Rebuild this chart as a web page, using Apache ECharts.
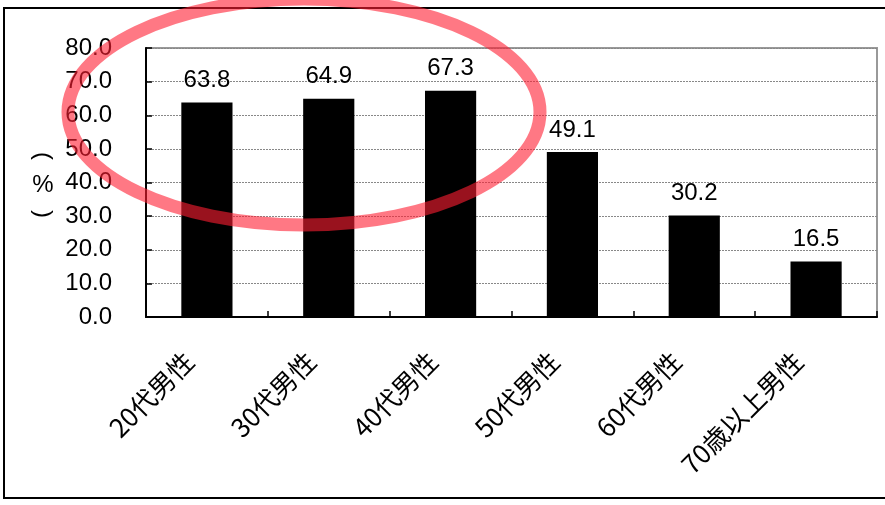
<!DOCTYPE html>
<html>
<head>
<meta charset="utf-8">
<script src="https://cdn.jsdelivr.net/npm/echarts@6/dist/echarts.min.js"></script>
<style>
  html, body { margin: 0; padding: 0; background: #fff; }
  #chart { width: 885px; height: 505px; }
</style>
</head>
<body>
<div id="chart"></div>
<script>
// Age groups (men) and their shares in percent
const categories = ['20代男性', '30代男性', '40代男性', '50代男性', '60代男性', '70歳以上男性'];
const values = [63.8, 64.9, 67.3, 49.1, 30.2, 16.5];
const yTicks = [0, 10, 20, 30, 40, 50, 60, 70, 80];

const FONT = '"Liberation Sans", "Noto Sans CJK JP", sans-serif';
const LABEL_FONT = '"Liberation Sans Narrow", "Noto Sans CJK JP", sans-serif';
const FS = 24;

const chart = echarts.init(document.getElementById('chart'), null, { renderer: 'canvas' });

// vertical unit caption "（%）": parentheses turned on their side, % upright
const unitX = 43;
const unitCaption = [
  { text: '(', y: 156, rotation: -Math.PI / 2 },
  { text: '%', y: 185, rotation: 0 },
  { text: ')', y: 214, rotation: -Math.PI / 2 }
].map(c => ({
  type: 'text', silent: true, z: 50,
  x: unitX, y: c.y, rotation: c.rotation,
  style: {
    text: c.text, fill: '#000', fontSize: FS, fontFamily: FONT,
    align: 'center', verticalAlign: 'middle'
  }
}));

chart.setOption({
  animation: false,
  backgroundColor: '#ffffff',
  grid: {
    left: 146, top: 48, right: 8, bottom: 188,
    show: true, borderColor: '#999999', borderWidth: 2, backgroundColor: 'transparent'
  },
  xAxis: {
    type: 'category',
    data: categories,
    axisLine: { lineStyle: { color: '#000', width: 2 } },
    axisTick: { show: true, inside: true, length: 6, lineStyle: { color: '#000', width: 1.5 } },
    axisLabel: {
      rotate: 45, margin: 22, color: '#000', fontSize: 26, fontFamily: LABEL_FONT, interval: 0,
      padding: [0, 25, 0, 0]
    }
  },
  yAxis: {
    type: 'value',
    min: yTicks[0],
    max: yTicks[yTicks.length - 1],
    interval: yTicks[1] - yTicks[0],
    axisLine: { show: true, lineStyle: { color: '#000', width: 2 } },
    axisTick: { show: true, inside: true, length: 6, lineStyle: { color: '#000', width: 1.5 } },
    axisLabel: {
      margin: 34, color: '#000', fontSize: FS, fontFamily: FONT,
      padding: [4, 0, 0, 0],
      formatter: v => v.toFixed(1)
    },
    splitLine: { show: true, lineStyle: { color: '#888', width: 1, type: [2, 1] } }
  },
  series: [{
    type: 'bar',
    data: values,
    barWidth: '42%',
    itemStyle: { color: '#000' },
    label: {
      show: true, position: 'top', distance: 10, color: '#000',
      fontSize: FS, fontFamily: FONT,
      formatter: p => p.value.toFixed(1)
    }
  }],
  graphic: [
    {
      type: 'rect', silent: true, z: 0,
      shape: { x: 4, y: 8, width: 900, height: 490 },
      style: { fill: 'none', stroke: '#000', lineWidth: 2 }
    },
    ...unitCaption,
    {
      type: 'ellipse', silent: true, z: 100,
      shape: { cx: 304, cy: 112, rx: 236, ry: 113 },
      style: { fill: 'none', stroke: 'rgba(255, 30, 50, 0.6)', lineWidth: 13 }
    }
  ]
});
</script>
</body>
</html>
